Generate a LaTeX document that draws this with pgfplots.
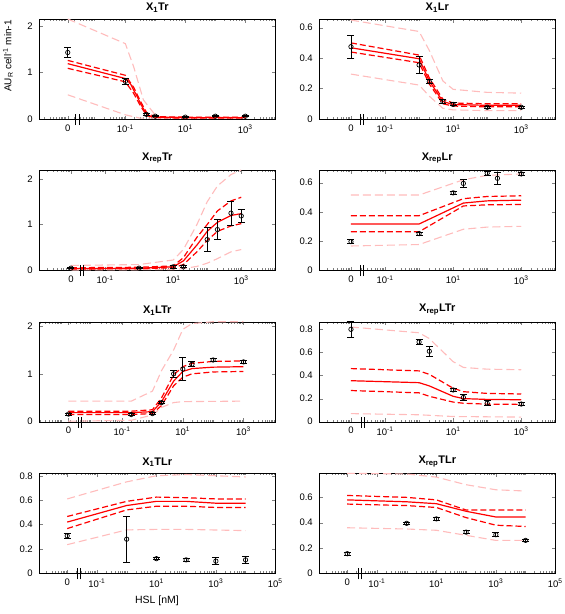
\documentclass[border=0pt]{standalone}
\usepackage{pgfplots}
\pgfplotsset{compat=1.18}
\usepackage{fontspec}
\setmainfont{Liberation Sans}
\definecolor{pinkc}{RGB}{255,188,188}
\definecolor{redc}{RGB}{255,0,0}
\pgfplotsset{
  scale only axis, width=236pt, height=100pt, ymin=0,
  clip=false,
  major tick length=3.5pt, minor tick length=2pt,
  minor xtick={2e-4,3e-4,4e-4,5e-4,6e-4,7e-4,8e-4,9e-4,1e-3,2e-3,3e-3,4e-3,5e-3,6e-3,7e-3,8e-3,9e-3,2e-2,3e-2,4e-2,5e-2,6e-2,7e-2,8e-2,9e-2,0.2,0.3,0.4,0.5,0.6,0.7,0.8,0.9,1,2,3,4,5,6,7,8,9,20,30,40,50,60,70,80,90,100,200,300,400,500,600,700,800,900,2000,3000,4000,5000,6000,7000,8000,9000,10000,20000,30000,40000,50000,60000,70000,80000,90000},
  tick label style={font=\fontsize{9.5}{10}\selectfont},
  yticklabel style={xshift=-3pt},
  xticklabel style={yshift=-2pt},
  title style={font=\bfseries\fontsize{11}{12}\selectfont, yshift=-3pt},
  pinkdash/.style={color=pinkc, dash pattern=on 8pt off 4pt, line width=1.1pt, mark=none},
  reddash/.style={color=redc, dash pattern=on 6pt off 3pt, line width=1.2pt, mark=none},
  redsolid/.style={color=redc, solid, line width=1.2pt, mark=none},
  datapts/.style={black, only marks, mark=o, mark size=2.2pt, line width=0.7pt,
    error bars/.cd, y dir=both, y explicit,
    error bar style={line width=0.9pt, black},
    error mark options={rotate=90, mark size=3.5pt, line width=0.9pt, black}},
}
\pgfplotsset{/pgf/number format/assume math mode=true}
\newcommand{\brk}[1]{%
  \draw[black, line width=0.8pt] ([xshift=-1.6pt,yshift=-6pt]axis cs:#1,0) -- ([xshift=-1.6pt,yshift=5pt]axis cs:#1,0);
  \draw[black, line width=0.8pt] ([xshift=1.6pt,yshift=-6pt]axis cs:#1,0) -- ([xshift=1.6pt,yshift=5pt]axis cs:#1,0);}
\begin{document}
\begin{tikzpicture}
\useasboundingbox (0,0) rectangle (565pt,-614pt);
% ---------------- P1
\begin{axis}[xmode=log, at={(39.3pt,-119pt)}, anchor=south west, xmin=1.35e-4, xmax=1e4, ymax=2.15,
  xtick={0.0012,0.1,10,1000}, xticklabels={0,10\textsuperscript{-1},10\textsuperscript{1},10\textsuperscript{3}},
  ytick={0,1,2}, title={X\textsubscript{1}Tr}]
\addplot[pinkdash] coordinates {(0.0012,2.15)(0.1,1.62)(0.19,1.12)(0.4,0.41)(1.1,0.05)(10,0.04)(1000,0.04)};
\addplot[pinkdash] coordinates {(0.0012,0.52)(0.1,0.09)(0.3,0.02)(10,0.015)(1000,0.015)};
\addplot[reddash] coordinates {(0.0012,1.26)(0.1,0.94)(0.19,0.68)(0.32,0.38)(0.52,0.13)(1,0.05)(10,0.04)(1000,0.04)};
\addplot[reddash] coordinates {(0.0012,1.09)(0.1,0.80)(0.19,0.55)(0.32,0.28)(0.52,0.07)(1,0.03)(10,0.02)(1000,0.02)};
\addplot[redsolid] coordinates {(0.0012,1.19)(0.1,0.87)(0.15,0.75)(0.19,0.62)(0.25,0.48)(0.32,0.33)(0.4,0.22)(0.52,0.10)(0.7,0.06)(1,0.04)(10,0.03)(1000,0.03)};
\addplot[datapts] table[x=x,y=y,y error=e] {
x y e
0.0012 1.43 0.10
0.1 0.81 0.07
0.5 0.10 0.02
1 0.06 0.01
10 0.04 0.01
100 0.06 0.015
1000 0.06 0.015
};
\brk{0.0025}
\end{axis}
% ---------------- P2
\begin{axis}[xmode=log, at={(319.3pt,-119pt)}, anchor=south west, xmin=1.175e-3, xmax=1e4, ymax=0.657,
  xtick={0.01,0.1,10,1000}, xticklabels={0,10\textsuperscript{-1},10\textsuperscript{1},10\textsuperscript{3}},
  ytick={0,0.2,0.4,0.6}, title={X\textsubscript{1}Lr}]
\addplot[pinkdash] coordinates {(0.01,0.65)(1,0.575)(2,0.45)(5,0.25)(10,0.195)(100,0.175)(1000,0.17)};
\addplot[pinkdash] coordinates {(0.01,0.295)(1,0.223)(2,0.15)(5,0.07)(10,0.06)(100,0.055)(1000,0.055)};
\addplot[reddash] coordinates {(0.01,0.50)(1,0.42)(2,0.27)(5,0.13)(10,0.105)(100,0.10)(1000,0.10)};
\addplot[reddash] coordinates {(0.01,0.44)(1,0.37)(2,0.23)(5,0.10)(10,0.085)(100,0.08)(1000,0.08)};
\addplot[redsolid] coordinates {(0.01,0.468)(1,0.396)(2,0.25)(5,0.115)(10,0.095)(100,0.09)(1000,0.09)};
\addplot[datapts] table[x=x,y=y,y error=e] {
x y e
0.01 0.475 0.077
1 0.355 0.055
2 0.245 0.012
5 0.114 0.012
10 0.096 0.010
100 0.077 0.006
1000 0.077 0.006
};
\brk{0.021}
\end{axis}
% ---------------- P3
\begin{axis}[xmode=log, at={(39.3pt,-270pt)}, anchor=south west, xmin=1.175e-3, xmax=1e4, ymax=2.2,
  xtick={0.01,0.1,10,1000}, xticklabels={0,10\textsuperscript{-1},10\textsuperscript{1},10\textsuperscript{3}},
  ytick={0,1,2}, title={X\textsubscript{rep}Tr}]
\addplot[pinkdash] coordinates {(0.01,0.10)(1,0.12)(10,0.22)(20,0.45)(50,1.0)(100,1.5)(200,1.85)(500,2.1)(1000,2.2)};
\addplot[pinkdash] coordinates {(0.01,0.0)(10,0.01)(20,0.03)(50,0.08)(100,0.15)(200,0.25)(500,0.40)(1000,0.45)};
\addplot[reddash] coordinates {(0.01,0.05)(1,0.06)(10,0.09)(20,0.27)(50,0.72)(100,1.0)(200,1.3)(500,1.52)(1000,1.6)};
\addplot[reddash] coordinates {(0.01,0.02)(1,0.03)(10,0.05)(20,0.12)(50,0.40)(100,0.65)(200,0.85)(500,0.97)(1000,1.02)};
\addplot[redsolid] coordinates {(0.01,0.03)(1,0.04)(10,0.07)(20,0.20)(50,0.55)(100,0.85)(200,1.05)(500,1.2)(1000,1.24)};
\addplot[datapts] table[x=x,y=y,y error=e] {
x y e
0.01 0.04 0.01
1 0.04 0.01
10 0.07 0.03
20 0.07 0.02
100 0.67 0.26
200 0.89 0.22
500 1.25 0.26
1000 1.19 0.15
};
\brk{0.021}
\end{axis}
% ---------------- P4
\begin{axis}[xmode=log, at={(319.3pt,-270pt)}, anchor=south west, xmin=1.175e-3, xmax=1e4, ymax=0.687,
  xtick={0.01,0.1,10,1000}, xticklabels={0,10\textsuperscript{-1},10\textsuperscript{1},10\textsuperscript{3}},
  ytick={0,0.2,0.4,0.6}, title={X\textsubscript{rep}Lr}]
\addplot[pinkdash] coordinates {(0.01,0.515)(1,0.515)(20,0.62)(100,0.65)(1000,0.66)};
\addplot[pinkdash] coordinates {(0.01,0.165)(1,0.175)(20,0.28)(100,0.295)(1000,0.30)};
\addplot[reddash] coordinates {(0.01,0.373)(1,0.373)(20,0.49)(100,0.505)(1000,0.51)};
\addplot[reddash] coordinates {(0.01,0.263)(1,0.263)(20,0.44)(100,0.448)(1000,0.45)};
\addplot[redsolid] coordinates {(0.01,0.316)(1,0.316)(20,0.46)(100,0.475)(1000,0.48)};
\addplot[datapts] table[x=x,y=y,y error=e] {
x y e
0.01 0.195 0.015
1 0.25 0.01
10 0.53 0.012
20 0.595 0.03
100 0.665 0.012
200 0.63 0.04
1000 0.66 0.01
};
\brk{0.021}
\end{axis}
% ---------------- P5
\begin{axis}[xmode=log, at={(39.3pt,-421.7pt)}, anchor=south west, xmin=1.86e-4, xmax=1.12e4, ymax=2.09,
  xtick={0.0017,0.1,10,1000}, xticklabels={0,10\textsuperscript{-1},10\textsuperscript{1},10\textsuperscript{3}},
  ytick={0,1,2}, title={X\textsubscript{1}LTr}]
\addplot[pinkdash] coordinates {(0.0017,0.43)(0.2,0.43)(1,0.64)(2,1.07)(5,1.5)(10,1.93)(20,2.05)(100,2.09)(1000,2.09)};
\addplot[pinkdash] coordinates {(0.0017,0.01)(0.2,0.03)(1,0.14)(2,0.30)(5,0.40)(10,0.42)(1000,0.43)};
\addplot[reddash] coordinates {(0.0017,0.22)(0.2,0.22)(1,0.25)(2,0.50)(5,0.98)(10,1.15)(20,1.22)(100,1.26)(1000,1.27)};
\addplot[reddash] coordinates {(0.0017,0.15)(0.2,0.15)(1,0.17)(2,0.34)(5,0.75)(10,0.93)(20,1.0)(100,1.04)(1000,1.05)};
\addplot[redsolid] coordinates {(0.0017,0.19)(0.2,0.19)(1,0.21)(2,0.42)(5,0.85)(10,1.05)(20,1.11)(100,1.14)(1000,1.15)};
\addplot[datapts] table[x=x,y=y,y error=e] {
x y e
0.0017 0.16 0.02
0.2 0.15 0.02
1 0.17 0.02
2 0.40 0.02
5 1.00 0.08
10 1.10 0.24
20 1.20 0.05
100 1.29 0.04
1000 1.25 0.03
};
\brk{0.004}
\end{axis}
% ---------------- P6
\begin{axis}[xmode=log, at={(319.3pt,-421.7pt)}, anchor=south west, xmin=1.175e-3, xmax=1e4, ymax=0.866,
  xtick={0.01,0.1,10,1000}, xticklabels={0,10\textsuperscript{-1},10\textsuperscript{1},10\textsuperscript{3}},
  ytick={0,0.2,0.4,0.6,0.8}, title={X\textsubscript{rep}LTr}]
\addplot[pinkdash] coordinates {(0.01,0.82)(1,0.77)(2,0.72)(10,0.52)(20,0.47)(100,0.455)(1000,0.45)};
\addplot[pinkdash] coordinates {(0.01,0.07)(1,0.06)(10,0.045)(1000,0.04)};
\addplot[reddash] coordinates {(0.01,0.46)(1,0.44)(2,0.41)(10,0.29)(20,0.26)(100,0.245)(1000,0.24)};
\addplot[reddash] coordinates {(0.01,0.27)(1,0.25)(2,0.22)(10,0.17)(20,0.16)(100,0.152)(1000,0.15)};
\addplot[redsolid] coordinates {(0.01,0.355)(1,0.338)(2,0.31)(10,0.22)(20,0.20)(100,0.193)(1000,0.19)};
\addplot[datapts] table[x=x,y=y,y error=e] {
x y e
0.01 0.80 0.068
1 0.69 0.025
2 0.61 0.045
10 0.275 0.01
20 0.21 0.03
100 0.16 0.02
1000 0.153 0.01
};
\brk{0.022}
\end{axis}
% ---------------- P7
\begin{axis}[xmode=log, at={(39.3pt,-573.3pt)}, anchor=south west, xmin=1.15e-3, xmax=1e5, ymax=0.82,
  xtick={0.01,0.1,10,1000,100000}, xticklabels={0,10\textsuperscript{-1},10\textsuperscript{1},10\textsuperscript{3},10\textsuperscript{5}},
  ytick={0,0.2,0.4,0.6,0.8}, title={X\textsubscript{1}TLr}]
\addplot[pinkdash] coordinates {(0.01,0.61)(1,0.75)(10,0.80)(100,0.81)(1000,0.80)(10000,0.79)};
\addplot[pinkdash] coordinates {(0.01,0.235)(1,0.356)(10,0.36)(100,0.36)(1000,0.355)(10000,0.35)};
\addplot[reddash] coordinates {(0.01,0.466)(1,0.59)(10,0.625)(100,0.62)(1000,0.61)(10000,0.61)};
\addplot[reddash] coordinates {(0.01,0.367)(1,0.52)(10,0.55)(100,0.55)(1000,0.54)(10000,0.54)};
\addplot[redsolid] coordinates {(0.01,0.42)(1,0.556)(10,0.59)(100,0.59)(1000,0.575)(10000,0.575)};
\addplot[datapts] table[x=x,y=y,y error=e] {
x y e
0.01 0.307 0.02
1 0.28 0.19
10 0.12 0.01
100 0.11 0.01
1000 0.10 0.03
10000 0.11 0.03
};
\brk{0.0245}
\end{axis}
% ---------------- P8
\begin{axis}[xmode=log, at={(319.3pt,-573.3pt)}, anchor=south west, xmin=1.15e-3, xmax=1e5, ymax=0.79,
  xtick={0.01,0.1,10,1000,100000}, xticklabels={0,10\textsuperscript{-1},10\textsuperscript{1},10\textsuperscript{3},10\textsuperscript{5}},
  ytick={0,0.2,0.4,0.6}, title={X\textsubscript{rep}TLr}]
\addplot[pinkdash] coordinates {(0.01,0.79)(1,0.785)(10,0.76)(100,0.70)(1000,0.66)(10000,0.65)};
\addplot[pinkdash] coordinates {(0.01,0.36)(1,0.35)(10,0.34)(100,0.30)(1000,0.26)(10000,0.26)};
\addplot[reddash] coordinates {(0.01,0.615)(1,0.60)(10,0.58)(100,0.50)(1000,0.50)(10000,0.50)};
\addplot[reddash] coordinates {(0.01,0.547)(1,0.535)(10,0.52)(100,0.44)(1000,0.38)(10000,0.37)};
\addplot[redsolid] coordinates {(0.01,0.58)(1,0.565)(10,0.55)(100,0.49)(1000,0.445)(10000,0.445)};
\addplot[datapts] table[x=x,y=y,y error=e] {
x y e
0.01 0.155 0.01
1 0.395 0.01
10 0.43 0.015
100 0.325 0.012
1000 0.305 0.015
10000 0.26 0.01
};
\brk{0.026}
\end{axis}
\node[rotate=90, font=\fontsize{10}{12}\selectfont] at (8pt,-56pt) {AU\textsubscript{R} cell\textsuperscript{-1} min-1};
\node[font=\fontsize{10.5}{12}\selectfont] at (157pt,-601pt) {HSL [nM]};
\end{tikzpicture}
\end{document}
